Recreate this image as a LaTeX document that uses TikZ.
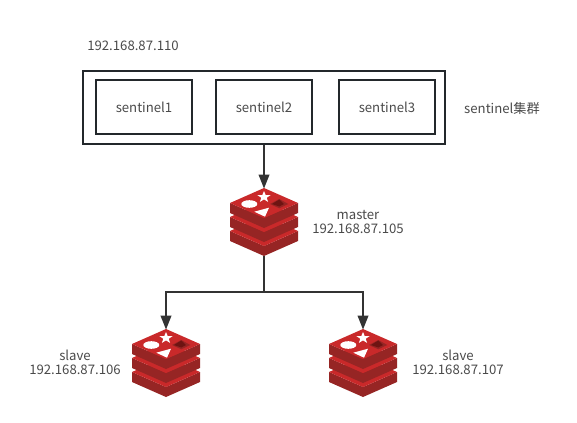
\documentclass[tikz,border=0pt]{standalone}
\usepackage{xcolor}
\usepackage{fontspec}
\setmainfont{Noto Sans CJK SC}
\usetikzlibrary{arrows.meta}
\definecolor{R0}{HTML}{C9292A}
\definecolor{R1}{HTML}{962524}
\definecolor{R2}{HTML}{6E1412}
\definecolor{L0}{HTML}{23282B}
\definecolor{L1}{HTML}{333333}
\definecolor{T0}{HTML}{4A4A4A}
\tikzset{
  boxline/.style={draw=L0, line width=0.04cm},
  outerbox/.style={boxline, minimum width=7.26cm, minimum height=1.46cm},
  sentinelbox/.style={boxline, minimum width=1.92cm, minimum height=1.08cm, text=T0, font=\fontsize{7.5}{10}\selectfont},
  iconbox/.style={minimum width=1.36cm, minimum height=1.36cm, inner sep=0pt},
  txt/.style={text=T0, align=center, inner sep=0pt, font=\fontsize{7.5}{8.1}\selectfont},
  link/.style={draw=L1, line width=0.04cm},
  linktip/.style={link, -{Triangle[length=0.28cm, width=0.21cm]}, shorten >=-0.02cm},
  redisicon/.pic={
    \foreach \s in {28,14,0} {
      \fill[R1] (-34,-19+\s) -- (0,-4+\s) -- (34,-19+\s) -- (34,-9+\s) -- (0,6+\s) -- (-34,-9+\s) -- cycle;
      \fill[R0] (-34,-19+\s) -- (0,-34+\s) -- (34,-19+\s) -- (0,-4+\s) -- cycle;
    }
    \fill[white] (0,-31) -- (1.7,-27) -- (6.7,-26.9) -- (2.7,-24.3) -- (4.1,-20.1) -- (0,-22.6) -- (-4.1,-20.1) -- (-2.7,-24.3) -- (-6.7,-26.9) -- (-1.7,-27) -- cycle;
    \fill[white] (-14.7,-18) ellipse (8 and 3.8);
    \fill[white] (-9.7,-10.3) -- (5,-14.3) -- (1,-5.3) -- cycle;
    \fill[R1] (6,-18) -- (15.3,-23) -- (24.3,-18) -- (15.3,-13.7) -- cycle;
    \fill[R2] (8,-18) -- (15.3,-22.5) -- (20,-18) -- (15.3,-15.5) -- cycle;
  }
}

\begin{document}
\begin{tikzpicture}[x=0.02cm, y=-0.02cm]%
\useasboundingbox (0,0) rectangle (577,422);%
\node[outerbox] (sentinels) at (264,107.5) {};%
\node[sentinelbox] (sentinel1) at (144,107) {sentinel1};%
\node[sentinelbox] (sentinel2) at (264,107) {sentinel2};%
\node[sentinelbox] (sentinel3) at (387,107) {sentinel3};%
\node[txt] (sentinelip) at (133,46) {192.168.87.110};%
\node[txt] (sentinelname) at (502,108) {sentinel集群};%
\node[iconbox] (master) at (264,222) {};%
\node[iconbox] (slave1) at (166,363) {};%
\node[iconbox] (slave2) at (363,363) {};%
\pic at (master) {redisicon};%
\pic at (slave1) {redisicon};%
\pic at (slave2) {redisicon};%
\node[txt] (masterlabel) at (358,222) {master\\192.168.87.105};%
\node[txt] (slave1label) at (75,362.5) {slave\\192.168.87.106};%
\node[txt] (slave2label) at (458,362.5) {slave\\192.168.87.107};%
\coordinate (split) at (264,292);%
\draw[linktip] (sentinels.south) -- (master.north);%
\draw[link] (master.south) -- (split);%
\draw[linktip] (split) -| (slave1.north);%
\draw[linktip] (split) -| (slave2.north);%
\end{tikzpicture}
\end{document}
